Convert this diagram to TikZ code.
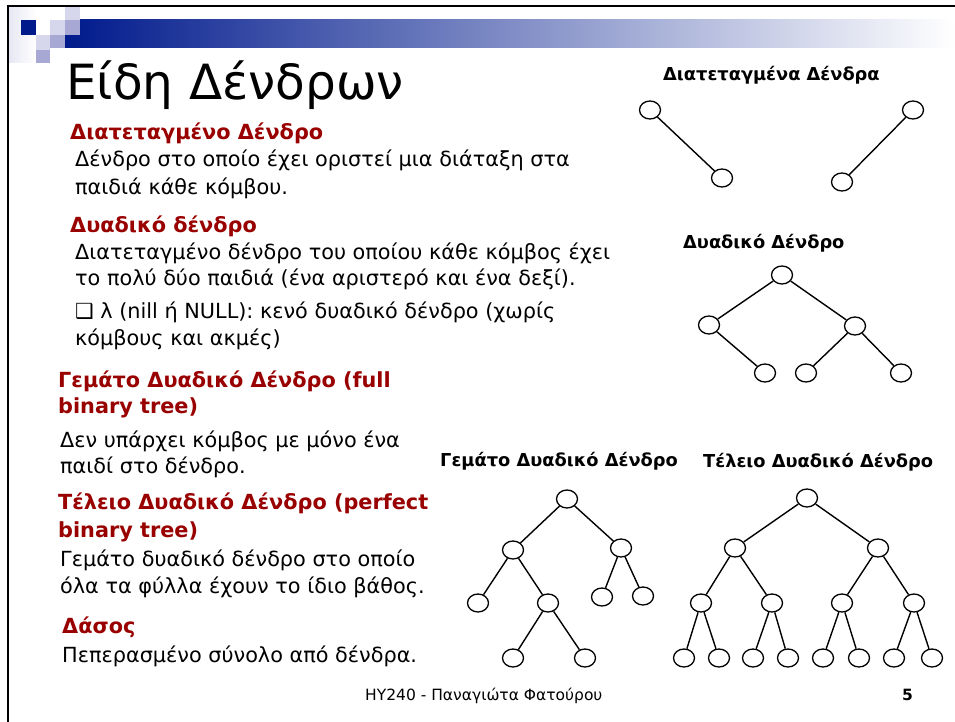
\documentclass[tikz,border=0pt]{standalone}
\usepackage{fontspec}
\setmainfont{DejaVu Sans}
\usetikzlibrary{shapes.geometric}

\definecolor{slideblue}{RGB}{0,26,140}
\definecolor{lightsq}{RGB}{214,214,236}
\definecolor{midsq}{RGB}{168,168,212}
\definecolor{headred}{RGB}{153,0,0}

\tikzset{
  txt/.style={anchor=base west, inner sep=0pt, font=\fontsize{20.8}{24}\selectfont},
  head/.style={txt, text=headred, font=\fontsize{20.8}{24}\selectfont\bfseries},
  treelabel/.style={anchor=base west, inner sep=0pt, font=\fontsize{17.8}{20}\selectfont\bfseries},
  tnode/.style={ellipse, draw, line width=1.3pt, minimum width=21pt, minimum height=18pt, inner sep=0pt},
  edge/.style={line width=1.4pt}
}

\begin{document}
\begin{tikzpicture}[x=1pt, y=-1pt]
 \useasboundingbox (0,0) rectangle (955,722);
 % Slide frame and header bar
 \fill[white] (0,0) rectangle (955,722);
 \shade[left color=lightsq!60, right color=white] (8,7) rectangle (36,63);
 \shade[left color=slideblue, right color=white] (65,20) rectangle (955,48);
 \fill[slideblue] (21,20) rectangle (36,35);
 \fill[lightsq] (65,7) rectangle (80,20);
 \fill[lightsq] (50,20) rectangle (65,35);
 \fill[midsq] (65,20) rectangle (80,35);
 \fill[lightsq] (36,35) rectangle (50,50);
 \fill[midsq] (50,35) rectangle (65,48);
 \fill[midsq] (36,50) rectangle (50,63);
 \draw[line width=2.5pt] (8,722) -- (8,6) -- (955,6);

 % Title
 \node[anchor=base west, inner sep=0pt, font=\fontsize{48.5}{56}\selectfont] (title) at (66,100) {Είδη Δένδρων};

 % Left column text
 \node[head] (h1) at (70,140) {Διατεταγμένο Δένδρο};
 \node[txt] (t1a) at (75,167) {Δένδρο στο οποίο έχει οριστεί μια διάταξη στα};
 \node[txt] (t1b) at (75,194) {παιδιά κάθε κόμβου.};
 \node[head] (h2) at (70,232) {Δυαδικό δένδρο};
 \node[txt] (t2a) at (75,259) {Διατεταγμένο δένδρο του οποίου κάθε κόμβος έχει};
 \node[txt] (t2b) at (75,285) {το πολύ δύο παιδιά (ένα αριστερό και ένα δεξί).};
 \node[txt] (t2c) at (75,318) {❑ λ (nill ή NULL): κενό δυαδικό δένδρο (χωρίς};
 \node[txt] (t2d) at (75,345) {κόμβους και ακμές)};
 \node[head] (h3) at (58,387) {Γεμάτο Δυαδικό Δένδρο (full};
 \node[head] (h3b) at (58,413) {binary tree)};
 \node[txt] (t3a) at (60,447) {Δεν υπάρχει κόμβος με μόνο ένα};
 \node[txt] (t3b) at (60,473) {παιδί στο δένδρο.};
 \node[head] (h4) at (58,509) {Τέλειο Δυαδικό Δένδρο (perfect};
 \node[head] (h4b) at (58,537) {binary tree)};
 \node[txt] (t4a) at (60,566) {Γεμάτο δυαδικό δένδρο στο οποίο};
 \node[txt] (t4b) at (60,593) {όλα τα φύλλα έχουν το ίδιο βάθος.};
 \node[head] (h5) at (62,633) {Δάσος};
 \node[txt] (t5a) at (62,662) {Πεπερασμένο σύνολο από δένδρα.};

 % Ordered trees
 \node[treelabel] (lbord) at (663,81) {Διατεταγμένα Δένδρα};
 \node[tnode] (oa) at (650,110) {};
 \node[tnode] (ob) at (722,178) {};
 \node[tnode] (oc) at (913,110) {};
 \node[tnode] (od) at (842,182) {};
 \draw[edge] (oa) -- (ob);
 \draw[edge] (oc) -- (od);

 % Binary tree
 \node[treelabel] (lbbin) at (683,248) {Δυαδικό Δένδρο};
 \node[tnode] (b) at (782,275) {};
 \node[tnode] (bl) at (709,325) {};
 \node[tnode] (br) at (855,326) {};
 \node[tnode] (blr) at (765,373) {};
 \node[tnode] (brl) at (806,373) {};
 \node[tnode] (brr) at (901,373) {};
 \draw[edge] (b) -- (bl);
 \draw[edge] (b) -- (br);
 \draw[edge] (bl) -- (blr);
 \draw[edge] (br) -- (brl);
 \draw[edge] (br) -- (brr);

 % Full binary tree
 \node[treelabel] (lbfull) at (440,466) {Γεμάτο Δυαδικό Δένδρο};
 \node[tnode] (f) at (567,499) {};
 \node[tnode] (fl) at (513,550) {};
 \node[tnode] (fr) at (621,548) {};
 \node[tnode] (fll) at (478,603) {};
 \node[tnode] (flr) at (548,603) {};
 \node[tnode] (frl) at (602,597) {};
 \node[tnode] (frr) at (643,596) {};
 \node[tnode] (flrl) at (513,658) {};
 \node[tnode] (flrr) at (585,658) {};
 \draw[edge] (f) -- (fl);
 \draw[edge] (f) -- (fr);
 \draw[edge] (fl) -- (fll);
 \draw[edge] (fl) -- (flr);
 \draw[edge] (fr) -- (frl);
 \draw[edge] (fr) -- (frr);
 \draw[edge] (flr) -- (flrl);
 \draw[edge] (flr) -- (flrr);

 % Perfect binary tree
 \node[treelabel] (lbperf) at (703,467) {Τέλειο Δυαδικό Δένδρο};
 \node[tnode] (p) at (807,498) {};
 \node[tnode] (pl) at (735,548) {};
 \node[tnode] (pr) at (878,548) {};
 \node[tnode] (pll) at (701,603) {};
 \node[tnode] (plr) at (772,603) {};
 \node[tnode] (prl) at (842,603) {};
 \node[tnode] (prr) at (914,603) {};
 \node[tnode] (p1) at (684,658) {};
 \node[tnode] (p2) at (719,658) {};
 \node[tnode] (p3) at (753,658) {};
 \node[tnode] (p4) at (788,658) {};
 \node[tnode] (p5) at (823,658) {};
 \node[tnode] (p6) at (859,658) {};
 \node[tnode] (p7) at (894,658) {};
 \node[tnode] (p8) at (932,658) {};
 \draw[edge] (p) -- (pl);
 \draw[edge] (p) -- (pr);
 \draw[edge] (pl) -- (pll);
 \draw[edge] (pl) -- (plr);
 \draw[edge] (pr) -- (prl);
 \draw[edge] (pr) -- (prr);
 \draw[edge] (pll) -- (p1);
 \draw[edge] (pll) -- (p2);
 \draw[edge] (plr) -- (p3);
 \draw[edge] (plr) -- (p4);
 \draw[edge] (prl) -- (p5);
 \draw[edge] (prl) -- (p6);
 \draw[edge] (prr) -- (p7);
 \draw[edge] (prr) -- (p8);

 % Footer
 \node[anchor=base west, inner sep=0pt, font=\fontsize{15.5}{17}\selectfont] (foot) at (365,700) {ΗΥ240 - Παναγιώτα Φατούρου};
 \node[anchor=base west, inner sep=0pt, font=\fontsize{15.5}{17}\selectfont\bfseries] (page) at (902,700) {5};
\end{tikzpicture}
\end{document}
